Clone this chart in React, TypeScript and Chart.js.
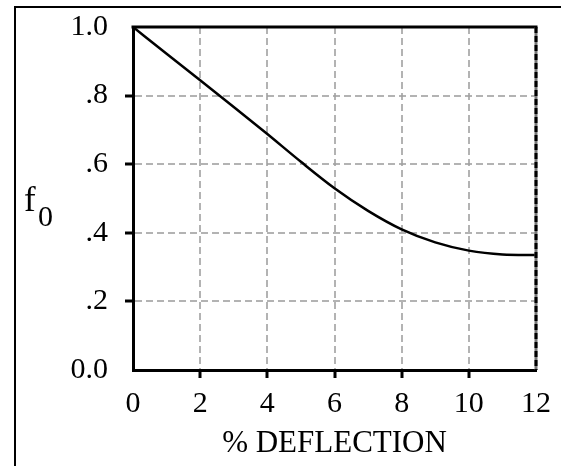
import React, { useEffect, useRef } from "react";
import { Chart, registerables } from "chart.js";

Chart.register(...registerables);

// ---- data ----
const deflection = [0, 1, 2, 3, 4, 5, 6, 7, 8, 9, 10, 11, 12];
const f0Values = [1.0, 0.922, 0.845, 0.767, 0.688, 0.607, 0.53, 0.464, 0.41, 0.372, 0.348, 0.337, 0.335];
const xTickValues = [0, 2, 4, 6, 8, 10, 12];
const yTickValues = [0, 0.2, 0.4, 0.6, 0.8, 1.0];
const yTickLabels = ["0.0", ".2", ".4", ".6", ".8", "1.0"];
const xTitle = "% DEFLECTION";
const yTitleMain = "f";
const yTitleSub = "0";

const SERIF = '"Liberation Serif", "Times New Roman", serif';
const GRID_COLOR = "rgba(160,160,160,0.8)";

const edgeTick = (ctx: any) => {
  const n = ctx.scale && ctx.scale.ticks ? ctx.scale.ticks.length : 0;
  return ctx.index === 0 || ctx.index === n - 1 ? "rgba(0,0,0,0)" : "#000";
};

const framePlugin = {
  id: "frameAndYLabel",
  afterDraw(chart: any) {
    const { ctx, chartArea } = chart;
    const { left, right, top, bottom } = chartArea;
    ctx.save();
    // top edge
    ctx.strokeStyle = "#000";
    ctx.lineWidth = 3;
    ctx.beginPath();
    ctx.moveTo(left - 1.5, top);
    ctx.lineTo(right + 1.5, top);
    ctx.stroke();
    // right edge (dark dashed)
    ctx.strokeStyle = "#777";
    ctx.beginPath();
    ctx.moveTo(right, top);
    ctx.lineTo(right, bottom);
    ctx.stroke();
    ctx.strokeStyle = "#000";
    ctx.setLineDash([6, 3]);
    ctx.beginPath();
    ctx.moveTo(right, top);
    ctx.lineTo(right, bottom);
    ctx.stroke();
    ctx.setLineDash([]);
    // y title f0
    const yScale = chart.scales.y;
    const mid = yScale.getPixelForValue(0.5);
    ctx.fillStyle = "#000";
    ctx.textAlign = "left";
    ctx.textBaseline = "alphabetic";
    ctx.font = `35px ${SERIF}`;
    ctx.fillText(yTitleMain, 24, mid + 12);
    ctx.font = `30px ${SERIF}`;
    ctx.fillText(yTitleSub, 38, mid + 27);
    ctx.restore();
  },
};

export default function App() {
  const canvasRef = useRef<HTMLCanvasElement | null>(null);

  useEffect(() => {
    if (!canvasRef.current) return;
    const chart = new Chart(canvasRef.current, {
      type: "line",
      data: {
        datasets: [
          {
            data: deflection.map((x, i) => ({ x, y: f0Values[i] })),
            borderColor: "#000",
            borderWidth: 2.5,
            pointRadius: 0,
            cubicInterpolationMode: "monotone",
            fill: false,
          },
        ],
      },
      options: {
        responsive: false,
        animation: false,
        layout: { padding: { left: 0, right: 25, top: 27, bottom: 0 } },
        plugins: {
          legend: { display: false },
          tooltip: { enabled: false },
          title: { display: false },
        },
        scales: {
          x: {
            type: "linear",
            min: 0,
            max: 12,
            afterBuildTicks: (s: any) => {
              s.ticks = xTickValues.map((v) => ({ value: v }));
            },
            afterFit: (s: any) => {
              s.height = 96;
              s.paddingRight = 0;
              s.paddingLeft = 0;
            },
            ticks: {
              color: "#000",
              font: { family: SERIF, size: 30 },
              padding: 8,
              maxRotation: 0,
              autoSkip: false,
            },
            grid: {
              color: GRID_COLOR,
              lineWidth: 2,
              tickLength: 8,
              tickWidth: 3,
              tickColor: edgeTick,
            },
            border: { display: true, color: "#000", width: 3, dash: [7, 4] },
            title: {
              display: true,
              text: xTitle,
              color: "#000",
              font: { family: SERIF, size: 31 },
              padding: { top: 0, bottom: 4 },
            },
          },
          y: {
            type: "linear",
            min: 0,
            max: 1,
            afterBuildTicks: (s: any) => {
              s.ticks = yTickValues.map((v) => ({ value: v }));
            },
            afterFit: (s: any) => {
              s.width = 133;
              s.paddingTop = 0;
              s.paddingBottom = 0;
            },
            ticks: {
              color: "#000",
              font: { family: SERIF, size: 30 },
              padding: 17,
              autoSkip: false,
              callback: (_v: any, i: number) => yTickLabels[i],
            },
            grid: {
              color: GRID_COLOR,
              lineWidth: 2,
              tickLength: 8,
              tickWidth: 3,
              tickColor: edgeTick,
            },
            border: { display: true, color: "#000", width: 3, dash: [7, 4] },
          },
        },
      },
      plugins: [framePlugin],
    } as any);
    return () => chart.destroy();
  }, []);

  return (
    <div
      style={{
        position: "fixed",
        left: 0,
        top: 0,
        width: 561,
        height: 466,
        overflow: "hidden",
        background: "#fff",
      }}
    >
      <div
        style={{
          position: "absolute",
          left: 14,
          top: 6,
          width: 547,
          height: 460,
          borderLeft: "2px solid #000",
          borderTop: "2px solid #000",
          boxSizing: "border-box",
        }}
      />
      <canvas
        ref={canvasRef}
        width={561}
        height={466}
        style={{ position: "absolute", left: 0, top: 0, width: 561, height: 466, display: "block" }}
      />
    </div>
  );
}
